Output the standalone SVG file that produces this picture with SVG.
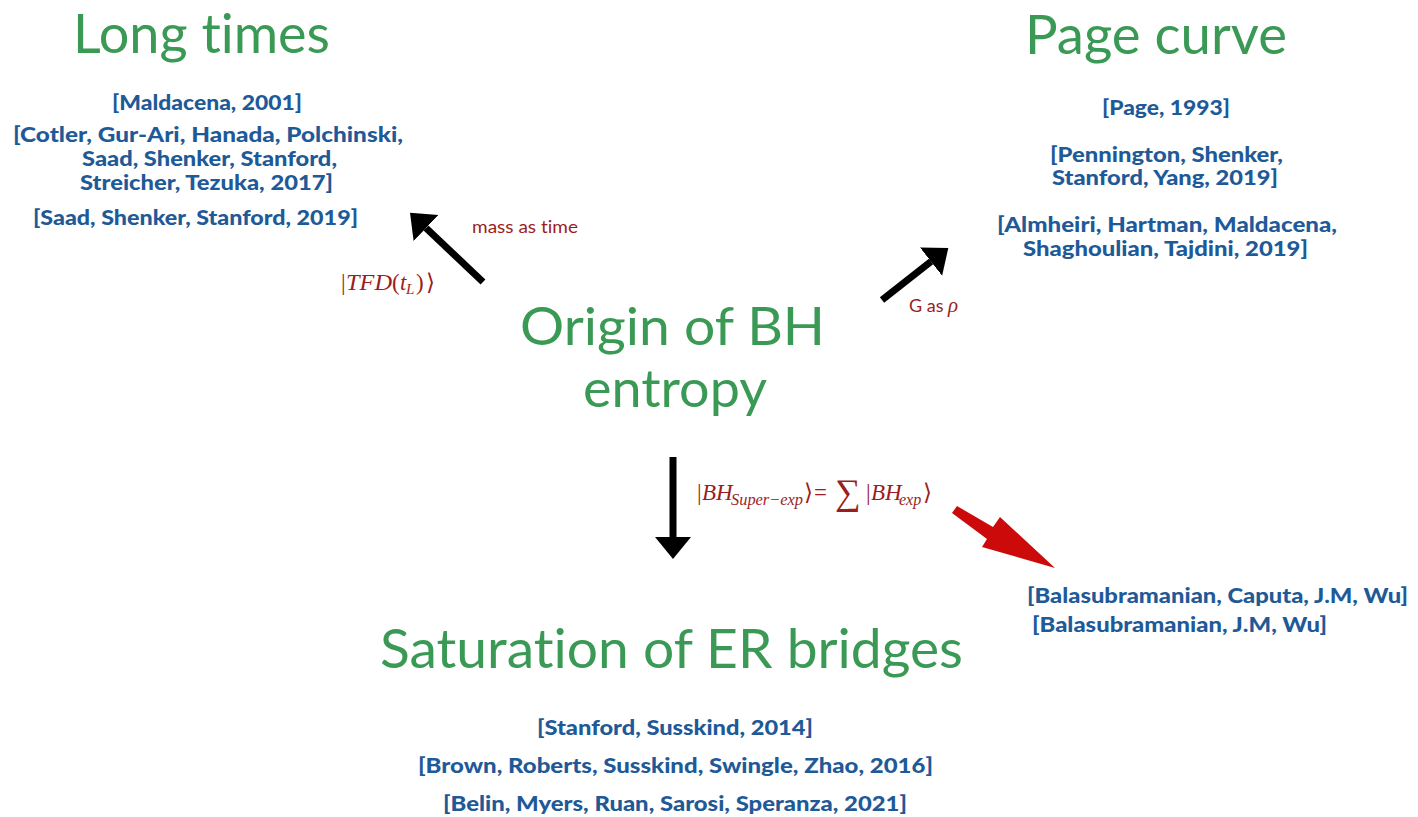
<svg xmlns="http://www.w3.org/2000/svg" width="1418" height="817" viewBox="0 0 1418 817">
<style>
text{font-variant-ligatures:none}
.title{font-family:"Lato","Noto Sans",sans-serif;font-weight:400;fill:#3a9a55;text-anchor:middle;font-size:54px}
.ref{font-family:"Lato","Noto Sans",sans-serif;font-weight:900;fill:#1f5a98;font-size:21px}
.mid{text-anchor:middle}
.lbl{font-family:"Lato","Noto Sans",sans-serif;fill:#9a1e1e;font-size:18px}
.math{font-family:"Liberation Serif","DejaVu Serif",serif;fill:#9a1e1e;font-size:23px}
.it{font-style:italic}
.blk{stroke:#000;stroke-width:7;fill:none;stroke-linecap:butt}
</style>
<defs>
<marker id="hb" markerUnits="userSpaceOnUse" markerWidth="24" markerHeight="38" refX="0" refY="18" orient="auto" viewBox="0 0 24 38">
<path d="M0,0 L22,18 L0,36 Z" fill="#000"/>
</marker>
</defs>
<rect width="1418" height="817" fill="#fff"/>

<g id="long-times">
<text class="title" x="201.5" y="53" textLength="257" lengthAdjust="spacingAndGlyphs">Long times</text>
<text class="ref mid" x="207" y="110" textLength="190" lengthAdjust="spacingAndGlyphs">[Maldacena, 2001]</text>
<text class="ref mid" x="208" y="142" textLength="390" lengthAdjust="spacingAndGlyphs">[Cotler, Gur-Ari, Hanada, Polchinski,</text>
<text class="ref mid" x="209.5" y="166" textLength="255" lengthAdjust="spacingAndGlyphs">Saad, Shenker, Stanford,</text>
<text class="ref mid" x="206.5" y="190" textLength="253" lengthAdjust="spacingAndGlyphs">Streicher, Tezuka, 2017]</text>
<text class="ref mid" x="195.5" y="225" textLength="325" lengthAdjust="spacingAndGlyphs">[Saad, Shenker, Stanford, 2019]</text>
</g>

<g id="page-curve">
<text class="title" x="1156" y="54" textLength="262" lengthAdjust="spacingAndGlyphs">Page curve</text>
<text class="ref mid" x="1166" y="115" textLength="128" lengthAdjust="spacingAndGlyphs">[Page, 1993]</text>
<text class="ref mid" x="1166.5" y="162" textLength="233" lengthAdjust="spacingAndGlyphs">[Pennington, Shenker,</text>
<text class="ref mid" x="1165" y="185" textLength="226" lengthAdjust="spacingAndGlyphs">Stanford, Yang, 2019]</text>
<text class="ref mid" x="1167" y="232" textLength="340" lengthAdjust="spacingAndGlyphs">[Almheiri, Hartman, Maldacena,</text>
<text class="ref mid" x="1165.5" y="256" textLength="285" lengthAdjust="spacingAndGlyphs">Shaghoulian, Tajdini, 2019]</text>
</g>

<g id="origin">
<text class="title" x="672.5" y="345" style="font-size:52px" textLength="305" lengthAdjust="spacingAndGlyphs">Origin of BH</text>
<text class="title" x="675" y="407" style="font-size:52px" textLength="184" lengthAdjust="spacingAndGlyphs">entropy</text>
</g>

<g id="saturation">
<text class="title" x="671.5" y="668" textLength="583" lengthAdjust="spacingAndGlyphs">Saturation of ER bridges</text>
<text class="ref mid" x="675" y="735" textLength="276" lengthAdjust="spacingAndGlyphs">[Stanford, Susskind, 2014]</text>
<text class="ref mid" x="675.5" y="773" textLength="515" lengthAdjust="spacingAndGlyphs">[Brown, Roberts, Susskind, Swingle, Zhao, 2016]</text>
<text class="ref mid" x="675" y="811" textLength="464" lengthAdjust="spacingAndGlyphs">[Belin, Myers, Ruan, Sarosi, Speranza, 2021]</text>
</g>

<g id="balasubramanian">
<text class="ref" x="1027" y="603" textLength="381" lengthAdjust="spacingAndGlyphs">[Balasubramanian, Caputa, J.M, Wu]</text>
<text class="ref" x="1032" y="632" textLength="295" lengthAdjust="spacingAndGlyphs">[Balasubramanian, J.M, Wu]</text>
</g>

<g id="connectors">
<line class="blk" x1="483" y1="282" x2="426" y2="228" marker-end="url(#hb)"/>
<line class="blk" x1="882" y1="300" x2="931" y2="261.6" marker-end="url(#hb)"/>
<line class="blk" x1="673" y1="457" x2="673" y2="537" marker-end="url(#hb)"/>
<path d="M952,513 L957,506 L993,527 L1000,517 L1055,568 L982,547 L987,539 Z" fill="#cc0a0a"/>
<text class="lbl" x="472" y="233" textLength="106" lengthAdjust="spacingAndGlyphs">mass as time</text>
<text class="math" y="290"><tspan x="341">|</tspan><tspan class="it" x="346" textLength="46" lengthAdjust="spacingAndGlyphs">TFD</tspan><tspan x="392">(</tspan><tspan class="it" x="400">t</tspan><tspan class="it" x="406" dy="4" font-size="15">L</tspan><tspan x="416" dy="-4">)</tspan><tspan x="426">⟩</tspan></text>
<text class="lbl" y="312"><tspan x="909">G as </tspan><tspan class="it" font-family="Liberation Serif,serif" font-size="21">ρ</tspan></text>
<text class="math" y="500"><tspan x="697">|</tspan><tspan class="it" x="702">BH</tspan><tspan class="it" x="731" dy="5" font-size="16" textLength="72" lengthAdjust="spacingAndGlyphs">Super−exp</tspan><tspan x="804" dy="-5">⟩</tspan><tspan x="814">=</tspan><tspan x="835" font-size="36" dy="4">∑</tspan><tspan x="866" dy="-4">|</tspan><tspan class="it" x="871">BH</tspan><tspan class="it" x="899" dy="5" font-size="16">exp</tspan><tspan x="923" dy="-5">⟩</tspan></text>
</g>
</svg>
